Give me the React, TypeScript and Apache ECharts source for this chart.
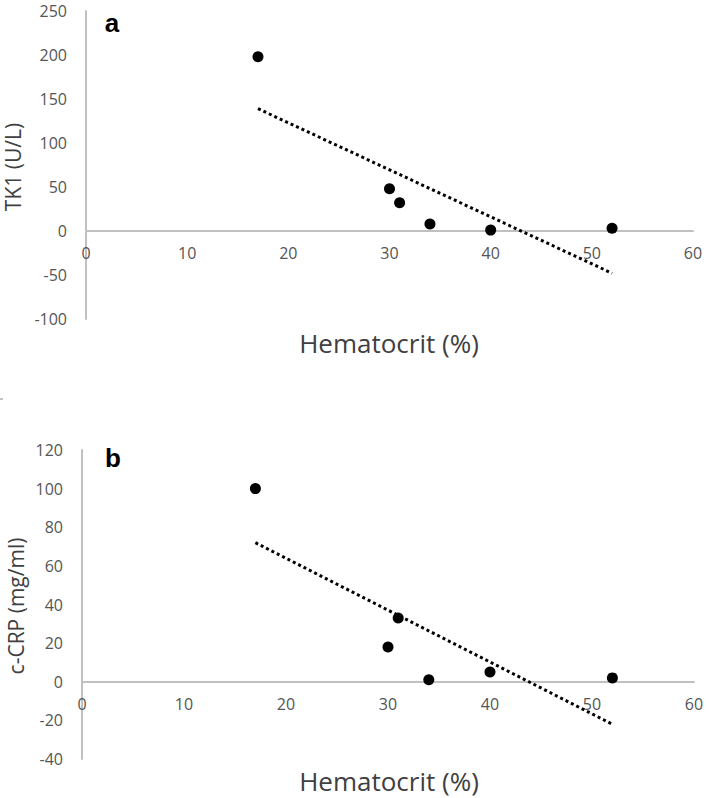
import React, { useEffect, useRef } from "react";
import * as echarts from "echarts";

const hematocrit = [17, 30, 31, 34, 40, 52];
const tk1 = [198, 48, 32, 8, 1, 3];
const crp = [100, 18, 33, 1, 5, 2];
const tk1Trend = [
  [17, 139],
  [52, -48],
];
const crpTrend = [
  [17, 72],
  [52, -22],
];
const xTitle = "Hematocrit (%)";
const yTitleA = "TK1 (U/L)";
const yTitleB = "c-CRP (mg/ml)";

const FONT = "'Open Sans', 'Noto Sans', sans-serif";
const AXIS_COLOR = "#c0c0c0";
const LABEL_COLOR = "#555555";

const GRID_A = { left: 86, right: 16, top: 11, height: 308 };
const GRID_B = { left: 82, right: 15, top: 450, height: 309 };
const Y_A = { min: -100, max: 250, interval: 50 };
const Y_B = { min: -40, max: 120, interval: 20 };

export default function App() {
  const ref = useRef<HTMLDivElement>(null);
  useEffect(() => {
    if (!ref.current) return;
    const chart = echarts.init(ref.current, undefined, { renderer: "svg" });
    const xAxisBase = (gridIndex: number, gridH: number, y: { min: number; max: number }) => ({
      type: "value",
      gridIndex,
      min: 0,
      max: 60,
      interval: 10,
      position: "bottom",
      offset: -(gridH * (0 - y.min)) / (y.max - y.min),
      axisLine: { show: true, onZero: false, lineStyle: { color: AXIS_COLOR, width: 2 } },
      axisTick: { show: false },
      splitLine: { show: false },
      axisLabel: { color: LABEL_COLOR, fontSize: 16, fontFamily: FONT, margin: 14 },
    });
    const yAxisBase = (gridIndex: number, y: { min: number; max: number; interval: number }) => ({
      type: "value",
      gridIndex,
      min: y.min,
      max: y.max,
      interval: y.interval,
      axisLine: { show: true, onZero: false, lineStyle: { color: AXIS_COLOR, width: 2 } },
      axisTick: { show: false },
      splitLine: { show: false },
      axisLabel: { color: LABEL_COLOR, fontSize: 16, fontFamily: FONT, margin: 19 },
    });
    const pts = (ys: number[]) => hematocrit.map((x, i) => [x, ys[i]]);
    const trendStyle = { color: "#000", width: 3, type: [3, 3], cap: "butt" };
    chart.setOption({
      animation: false,
      backgroundColor: "#ffffff",
      grid: [GRID_A, GRID_B],
      xAxis: [xAxisBase(0, GRID_A.height, Y_A), xAxisBase(1, GRID_B.height, Y_B)],
      yAxis: [yAxisBase(0, Y_A), yAxisBase(1, Y_B)],
      series: [
        {
          type: "line",
          xAxisIndex: 0,
          yAxisIndex: 0,
          data: tk1Trend,
          symbol: "none",
          lineStyle: trendStyle,
        },
        {
          type: "scatter",
          xAxisIndex: 0,
          yAxisIndex: 0,
          data: pts(tk1),
          symbol: "circle",
          symbolSize: 11,
          itemStyle: { color: "#000", opacity: 1 },
        },
        {
          type: "line",
          xAxisIndex: 1,
          yAxisIndex: 1,
          data: crpTrend,
          symbol: "none",
          lineStyle: trendStyle,
        },
        {
          type: "scatter",
          xAxisIndex: 1,
          yAxisIndex: 1,
          data: pts(crp),
          symbol: "circle",
          symbolSize: 11,
          itemStyle: { color: "#000", opacity: 1 },
        },
      ],
      graphic: [
        {
          type: "text",
          x: 112,
          y: 23,
          style: { text: "a", font: "bold 26px Arial, 'Liberation Sans', sans-serif", fill: "#000", align: "center", verticalAlign: "middle" },
        },
        {
          type: "text",
          x: 113,
          y: 458,
          style: { text: "b", font: "bold 26px Arial, 'Liberation Sans', sans-serif", fill: "#000", align: "center", verticalAlign: "middle" },
        },
        {
          type: "text",
          x: 389,
          y: 343,
          style: { text: xTitle, font: `26px ${FONT}`, fill: "#404040", align: "center", verticalAlign: "middle" },
        },
        {
          type: "text",
          x: 389,
          y: 781,
          style: { text: xTitle, font: `26px ${FONT}`, fill: "#404040", align: "center", verticalAlign: "middle" },
        },
        {
          type: "text",
          x: 13,
          y: 167,
          rotation: Math.PI / 2,
          style: { text: yTitleA, font: `21px ${FONT}`, fill: "#404040", align: "center", verticalAlign: "middle" },
        },
        {
          type: "text",
          x: 16,
          y: 606,
          rotation: Math.PI / 2,
          style: { text: yTitleB, font: `21px ${FONT}`, fill: "#404040", align: "center", verticalAlign: "middle" },
        },
        {
          type: "line",
          shape: { x1: 0, y1: 399, x2: 3, y2: 399 },
          style: { stroke: "#888", lineWidth: 1 },
        },
      ],
    });
    return () => chart.dispose();
  }, []);
  return (
    <div
      ref={ref}
      style={{ position: "fixed", left: 0, top: 0, width: 709, height: 798 }}
    />
  );
}
